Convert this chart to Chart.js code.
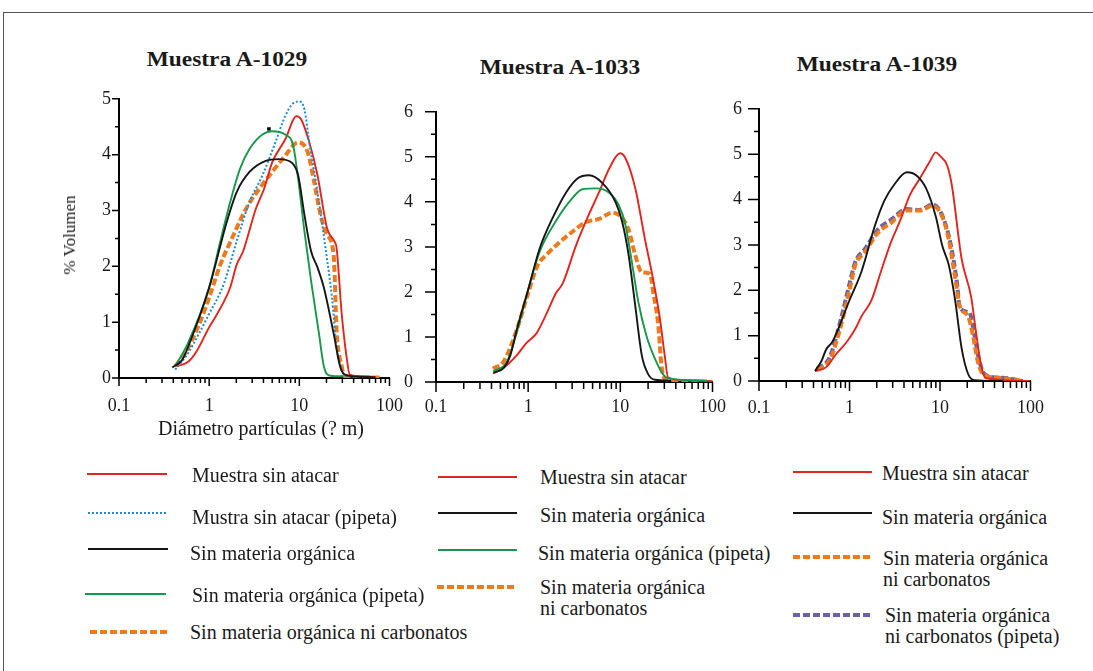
<!DOCTYPE html>
<html lang="es">
<head>
<meta charset="utf-8">
<title>Distribución granulométrica</title>
<script src="https://cdn.jsdelivr.net/npm/chart.js@4.4.1/dist/chart.umd.min.js"></script>
<style>
  body { margin: 0; background: #fff; }
  #lienzo { position: relative; width: 1093px; height: 671px; overflow: hidden; background: #fff;
            font-family: "Liberation Serif", "Times New Roman", serif; color: #1a1a1a; }
  .marco-sup { position: absolute; left: 3px; top: 12px; right: 0; border-top: 1.5px solid #555; }
  .marco-izq { position: absolute; left: 3px; top: 12px; bottom: 0; border-left: 1.5px solid #555; }
  .grafico { position: absolute; }
  .titulo { position: absolute; font-weight: bold; font-size: 20px; line-height: 24px; white-space: nowrap;
            transform: translateX(-50%) scaleX(1.17); }
  .eje { position: absolute; font-size: 20px; line-height: 22px; white-space: nowrap; }
  .leyenda { position: absolute; font-size: 20px; line-height: 21px; white-space: nowrap; }
  svg.muestra { position: absolute; overflow: visible; }
</style>
</head>
<body>
<div id="lienzo">
  <div class="marco-sup"></div>
  <div class="marco-izq"></div>

  <div class="titulo" style="left:227px; top:47px;">Muestra A-1029</div>
  <div class="titulo" style="left:560px; top:55px;">Muestra A-1033</div>
  <div class="titulo" style="left:877px; top:52px;">Muestra A-1039</div>

  <div class="grafico" style="left:50px; top:80px; width:370px; height:338px;"><canvas id="g1029"></canvas></div>
  <div class="grafico" style="left:380px; top:78px; width:360px; height:344px;"><canvas id="g1033"></canvas></div>
  <div class="grafico" style="left:700px; top:81px; width:360px; height:340px;"><canvas id="g1039"></canvas></div>

  <div class="eje" style="left:70px; top:235px; font-size:17px; transform: translate(-50%, -50%) rotate(-90deg);">% Volumen</div>
  <div class="eje" style="left:261px; top:417px; transform: translateX(-50%);">Diámetro partículas (? m)</div>
</div>

<script>

// Muestra A-1029
const diam1029SinAtacar = [0.44, 0.585, 0.72, 1.0, 1.23, 1.71, 2.02, 2.38, 3.31, 4.07, 5.0, 6.96, 9.3, 10.5, 12.9, 15.9, 20.3, 25, 25.9, 29.5, 33.4, 36.3, 50, 70];
const vol1029SinAtacar = [0.21, 0.29, 0.47, 0.91, 1.15, 1.62, 2.03, 2.27, 3.04, 3.39, 3.86, 4.27, 4.69, 4.63, 4.22, 3.63, 2.68, 2.42, 2.33, 1.15, 0.38, 0.06, 0.03, 0.02];
const diam1029SinAtacarPipeta = [0.42, 0.58, 1.0, 1.45, 2.02, 2.8, 3.9, 5.43, 6.96, 8.55, 10, 11.4, 12.9, 15.9, 19.5, 23, 25.9, 29.5, 33, 45];
const vol1029SinAtacarPipeta = [0.15, 0.44, 1.15, 1.68, 2.45, 3.15, 3.63, 4.22, 4.69, 4.92, 4.95, 4.81, 4.22, 3.33, 2.33, 1.44, 0.56, 0.15, 0.03, 0.01];
const diam1029SinMO = [0.39, 0.5, 0.585, 1.0, 1.57, 2.02, 2.8, 4.24, 5.9, 8.2, 9.7, 11.4, 13.5, 15.9, 18.7, 24, 28.3, 32, 50, 70];
const vol1029SinMO = [0.19, 0.32, 0.56, 1.62, 2.8, 3.33, 3.69, 3.89, 3.92, 3.86, 3.63, 2.92, 2.27, 1.98, 1.62, 0.8, 0.21, 0.06, 0.02, 0.01];
const diam1029SinMOPipeta = [0.42, 0.58, 1.0, 1.33, 1.71, 2.19, 2.8, 3.9, 5.0, 6.96, 8.55, 9.7, 11.4, 13.5, 16.5, 18.7, 22, 30.7];
const vol1029SinMOPipeta = [0.21, 0.62, 1.62, 2.45, 3.15, 3.74, 4.1, 4.36, 4.42, 4.36, 4.16, 3.57, 2.62, 1.74, 0.8, 0.21, 0.04, 0.03];
const diam1029SinMOCarb = [0.42, 0.54, 0.75, 1.0, 1.33, 1.86, 2.58, 3.6, 5.0, 6.96, 9.7, 12.4, 14.6, 17.2, 20.3, 24, 25.9, 29.5, 32, 50, 80];
const vol1029SinMOCarb = [0.21, 0.44, 0.91, 1.44, 2.03, 2.56, 3.04, 3.39, 3.69, 3.98, 4.22, 4.04, 3.51, 2.92, 2.56, 2.21, 0.85, 0.21, 0.03, 0.01, 0.01];
const diam1029Marca = [4.6];
const vol1029Marca = [4.46];

// Muestra A-1033
const diam1033SinAtacar = [0.415, 0.54, 0.75, 0.96, 1.23, 1.57, 2.01, 2.37, 3.3, 4.4, 5.86, 7.7, 9.9, 11.3, 14.5, 18.5, 22.8, 26.8, 30.3, 33, 50, 100];
const vol1033SinAtacar = [0.19, 0.31, 0.59, 0.87, 1.08, 1.5, 1.98, 2.19, 3.03, 3.65, 4.21, 4.77, 5.08, 4.98, 4.31, 3.17, 2.26, 1.43, 0.59, 0.1, 0.04, 0.02];
const diam1033SinMO = [0.42, 0.54, 0.64, 0.75, 1.0, 1.33, 1.85, 2.58, 3.43, 4.58, 6.36, 8.84, 10.4, 12.3, 14.5, 17.1, 20.1, 23.7, 35.7];
const vol1033SinMO = [0.21, 0.31, 0.59, 1.15, 2.05, 2.96, 3.65, 4.21, 4.52, 4.59, 4.42, 4.0, 3.58, 2.82, 1.7, 0.59, 0.17, 0.05, 0.03];
const diam1033SinMOPipeta = [0.42, 0.59, 0.75, 1.0, 1.33, 2.01, 2.79, 3.88, 5.4, 7.5, 9.6, 11.3, 13.3, 15.7, 19.3, 23.7, 29.1, 33, 88];
const vol1033SinMOPipeta = [0.24, 0.45, 1.1, 2.05, 2.89, 3.58, 4.0, 4.28, 4.3, 4.21, 3.93, 3.51, 2.68, 1.77, 1.01, 0.52, 0.17, 0.08, 0.03];
const diam1033SinMOCarb = [0.415, 0.54, 0.75, 1.0, 1.28, 1.57, 2.18, 3.03, 4.22, 5.86, 8.15, 10.4, 12.3, 14.5, 17.1, 21, 22.8, 25.7, 27.9, 30.3, 75];
const vol1033SinMOCarb = [0.3, 0.45, 1.15, 1.98, 2.61, 2.82, 3.1, 3.34, 3.55, 3.62, 3.76, 3.65, 3.38, 2.82, 2.44, 2.4, 1.98, 1.29, 0.38, 0.07, 0.0];

// Muestra A-1039
const diam1039SinAtacar = [0.416, 0.55, 0.71, 0.94, 1.16, 1.36, 1.75, 2.23, 2.86, 3.65, 4.67, 5.97, 7.63, 8.99, 10, 12, 13.5, 17.3, 22.1, 25, 28.3, 32, 100];
const vol1039SinAtacar = [0.22, 0.3, 0.59, 0.87, 1.15, 1.43, 1.78, 2.42, 3.05, 3.55, 4.11, 4.46, 4.82, 5.04, 4.96, 4.75, 4.32, 2.7, 1.85, 1.08, 0.37, 0.06, 0.0];
const diam1039SinMO = [0.416, 0.49, 0.55, 0.65, 1.0, 1.36, 1.9, 2.42, 3.1, 4.3, 5.5, 7.0, 9.0, 10.6, 12.5, 14.7, 17.3, 20.4, 24, 50];
const vol1039SinMO = [0.22, 0.44, 0.69, 0.87, 1.78, 2.42, 3.41, 3.97, 4.32, 4.6, 4.53, 4.25, 3.62, 2.98, 2.56, 1.78, 0.73, 0.16, 0.02, 0.0];
const diam1039SinMOCarb = [0.44, 0.6, 0.77, 1.0, 1.16, 1.48, 2.06, 2.86, 4.3, 5.97, 8.3, 10.6, 12.5, 14.7, 16.6, 20.4, 23.1, 26.1, 30.7, 46, 82];
const vol1039SinMOCarb = [0.25, 0.44, 1.08, 2.0, 2.56, 2.84, 3.27, 3.48, 3.76, 3.76, 3.86, 3.62, 3.12, 2.28, 1.64, 1.43, 1.01, 0.44, 0.13, 0.07, 0.0];
const diam1039SinMOCarbPipeta = [0.44, 0.6, 0.77, 1.0, 1.16, 1.48, 2.06, 2.86, 4.3, 5.97, 8.3, 10.6, 13, 15.3, 16.6, 21.2, 24, 27.2, 32, 50, 82];
const vol1039SinMOCarbPipeta = [0.27, 0.51, 1.22, 2.14, 2.63, 2.91, 3.34, 3.55, 3.79, 3.77, 3.89, 3.65, 3.05, 2.21, 1.61, 1.5, 1.01, 0.44, 0.13, 0.07, 0.0];

// Etiquetas de los ejes
const ticksDiametro = [0.1, 1, 10, 100];
const ticksVolumen1029 = [0, 1, 2, 3, 4, 5];
const ticksVolumen = [0, 1, 2, 3, 4, 5, 6];

// Textos de la leyenda
const txtSinAtacar = "Muestra sin atacar";
const txtSinAtacarPipeta = "Mustra sin atacar (pipeta)";
const txtSinMO = "Sin materia orgánica";
const txtSinMOPipeta = "Sin materia orgánica (pipeta)";
const txtSinMOCarb = "Sin materia orgánica ni carbonatos";
const txtSinMOCarb2 = ["Sin materia orgánica", "ni carbonatos"];
const txtSinMOCarbPipeta = ["Sin materia orgánica", "ni carbonatos (pipeta)"];

// Estilos de línea
const estilos = {
  rojo:    { color: "#e0261d", ancho: 1.9, trazo: [] },
  azul:    { color: "#1e8bd6", ancho: 2,   trazo: [2, 2] },
  negro:   { color: "#161616", ancho: 1.9, trazo: [] },
  verde:   { color: "#17984a", ancho: 1.9, trazo: [] },
  naranja: { color: "#ec7b1f", ancho: 4,   trazo: [7, 3] },
  morado:  { color: "#6a62a2", ancho: 4,   trazo: [7, 3] },
};

const fuente = "'Liberation Serif', 'Times New Roman', serif";
Chart.defaults.font.family = fuente;

function puntos(diametros, volumenes) {
  return diametros.map((d, i) => ({ x: d, y: volumenes[i] }));
}

function serie(diametros, volumenes, estilo) {
  return {
    data: puntos(diametros, volumenes),
    borderColor: estilo.color,
    borderWidth: estilo.ancho,
    borderDash: estilo.trazo,
    pointRadius: 0,
    fill: false,
    cubicInterpolationMode: "monotone",
  };
}

// Marcas mayores y menores de los ejes (log en x, cada 0.5 en y)
const marcasEjes = {
  id: "marcasEjes",
  afterDraw(chart, args, opts) {
    const { ctx, chartArea } = chart;
    const x = chart.scales.x;
    const y = chart.scales.y;
    ctx.save();
    ctx.strokeStyle = "#000";
    ctx.lineWidth = 1.5;
    ctx.beginPath();
    for (const dec of [0.1, 1, 10]) {
      for (let m = 1; m <= 9; m++) {
        const px = x.getPixelForValue(m * dec);
        const largo = m === 1 ? opts.xMayor : opts.xMenor;
        ctx.moveTo(px, chartArea.bottom);
        ctx.lineTo(px, chartArea.bottom + largo);
      }
    }
    const p100 = x.getPixelForValue(100);
    ctx.moveTo(p100, chartArea.bottom);
    ctx.lineTo(p100, chartArea.bottom + opts.xMayor);
    for (let v = 0; v <= y.max + 1e-6; v += 0.5) {
      const py = y.getPixelForValue(v);
      const largo = Number.isInteger(v) ? opts.yMayor : opts.yMenor;
      ctx.moveTo(chartArea.left, py);
      ctx.lineTo(chartArea.left - largo, py);
    }
    ctx.stroke();
    ctx.restore();
  },
};

function crearGrafico(id, series, ticksY, ajustes) {
  return new Chart(document.getElementById(id), {
    type: "line",
    data: { datasets: series },
    options: {
      responsive: true,
      maintainAspectRatio: false,
      animation: false,
      layout: { padding: { top: ajustes.arriba, right: ajustes.derecha, left: 0, bottom: 0 } },
      plugins: {
        legend: { display: false },
        tooltip: { enabled: false },
        marcasEjes: ajustes.marcas,
      },
      scales: {
        x: {
          type: "logarithmic",
          min: 0.1,
          max: 100,
          afterBuildTicks: (s) => { s.ticks = ticksDiametro.map((v) => ({ value: v })); },
          afterFit: (s) => { s.height = 40; },
          grid: { display: false, drawTicks: false },
          border: { display: true, color: "#000", width: 2 },
          ticks: {
            padding: ajustes.sepX,
            color: "#1a1a1a",
            autoSkip: false,
            maxRotation: 0,
            font: { family: fuente, size: 18 },
            callback: (v) => String(v),
          },
        },
        y: {
          min: 0,
          max: ticksY[ticksY.length - 1],
          afterBuildTicks: (s) => { s.ticks = ticksY.map((v) => ({ value: v })); },
          afterFit: (s) => { s.width = ajustes.anchoY; },
          grid: { display: false, drawTicks: false },
          border: { display: true, color: "#000", width: 2 },
          ticks: {
            padding: ajustes.sepY,
            color: "#1a1a1a",
            font: { family: fuente, size: 18 },
            callback: (v) => String(v),
          },
        },
      },
    },
    plugins: [marcasEjes],
  });
}

// Muestra A-1029
crearGrafico("g1029", [
  serie(diam1029SinMO, vol1029SinMO, estilos.negro),
  serie(diam1029SinMOPipeta, vol1029SinMOPipeta, estilos.verde),
  serie(diam1029SinAtacarPipeta, vol1029SinAtacarPipeta, estilos.azul),
  serie(diam1029SinAtacar, vol1029SinAtacar, estilos.rojo),
  serie(diam1029SinMOCarb, vol1029SinMOCarb, estilos.naranja),
  {
    data: puntos(diam1029Marca, vol1029Marca),
    showLine: false,
    pointStyle: "rect",
    pointRadius: 2.5,
    backgroundColor: "#000",
    borderWidth: 0,
  },
], ticksVolumen1029, {
  arriba: 16, derecha: 21, anchoY: 69, sepX: 17, sepY: 8,
  marcas: { xMayor: 8, xMenor: 5, yMayor: 7, yMenor: 4 },
});

// Muestra A-1033
crearGrafico("g1033", [
  serie(diam1033SinMO, vol1033SinMO, estilos.negro),
  serie(diam1033SinMOPipeta, vol1033SinMOPipeta, estilos.verde),
  serie(diam1033SinAtacar, vol1033SinAtacar, estilos.rojo),
  serie(diam1033SinMOCarb, vol1033SinMOCarb, estilos.naranja),
], ticksVolumen, {
  arriba: 16, derecha: 23, anchoY: 56, sepX: 14, sepY: 23,
  marcas: { xMayor: 10, xMenor: 7, yMayor: 11, yMenor: 5 },
});

// Muestra A-1039
crearGrafico("g1039", [
  serie(diam1039SinMO, vol1039SinMO, estilos.negro),
  serie(diam1039SinAtacar, vol1039SinAtacar, estilos.rojo),
  serie(diam1039SinMOCarb, vol1039SinMOCarb, estilos.naranja),
  serie(diam1039SinMOCarbPipeta, vol1039SinMOCarbPipeta, estilos.morado),
], ticksVolumen, {
  arriba: 16, derecha: 21, anchoY: 59, sepX: 16, sepY: 17,
  marcas: { xMayor: 10, xMenor: 7, yMayor: 11, yMenor: 5 },
});

// Leyendas: muestra de línea + texto
const lienzo = document.getElementById("lienzo");
function entradaLeyenda(x1, x2, yLinea, xTexto, yTexto, estilo, texto) {
  const ns = "http://www.w3.org/2000/svg";
  const svg = document.createElementNS(ns, "svg");
  svg.setAttribute("class", "muestra");
  svg.setAttribute("width", x2 - x1);
  svg.setAttribute("height", 6);
  svg.style.left = x1 + "px";
  svg.style.top = (yLinea - 3) + "px";
  const linea = document.createElementNS(ns, "line");
  linea.setAttribute("x1", 0);
  linea.setAttribute("x2", x2 - x1);
  linea.setAttribute("y1", 3);
  linea.setAttribute("y2", 3);
  linea.setAttribute("stroke", estilo.color);
  linea.setAttribute("stroke-width", estilo.ancho);
  if (estilo.trazo.length) linea.setAttribute("stroke-dasharray", estilo.trazo.join(" "));
  svg.appendChild(linea);
  lienzo.appendChild(svg);

  const lineas = Array.isArray(texto) ? texto : [texto];
  const div = document.createElement("div");
  div.className = "leyenda";
  div.style.left = xTexto + "px";
  div.style.top = (yTexto - 10.5) + "px";
  div.innerHTML = lineas.join("<br>");
  lienzo.appendChild(div);
}

entradaLeyenda(87, 167, 474, 192, 475, estilos.rojo, txtSinAtacar);
entradaLeyenda(88, 167, 513, 192, 517, estilos.azul, txtSinAtacarPipeta);
entradaLeyenda(88, 168, 549, 190, 553, estilos.negro, txtSinMO);
entradaLeyenda(85, 166, 594, 192, 595, estilos.verde, txtSinMOPipeta);
entradaLeyenda(90, 169, 632, 190, 632, estilos.naranja, txtSinMOCarb);

entradaLeyenda(438, 517, 477, 540, 477, estilos.rojo, txtSinAtacar);
entradaLeyenda(438, 517, 513, 540, 515, estilos.negro, txtSinMO);
entradaLeyenda(438, 517, 550, 538, 553, estilos.verde, txtSinMOPipeta);
entradaLeyenda(437, 517, 587, 540, 587, estilos.naranja, txtSinMOCarb2);

entradaLeyenda(793, 872, 472, 882, 473, estilos.rojo, txtSinAtacar);
entradaLeyenda(793, 872, 513, 882, 517, estilos.negro, txtSinMO);
entradaLeyenda(793, 872, 557, 883, 558, estilos.naranja, txtSinMOCarb2);
entradaLeyenda(793, 872, 615, 885, 615, estilos.morado, txtSinMOCarbPipeta);
</script>
</body>
</html>
